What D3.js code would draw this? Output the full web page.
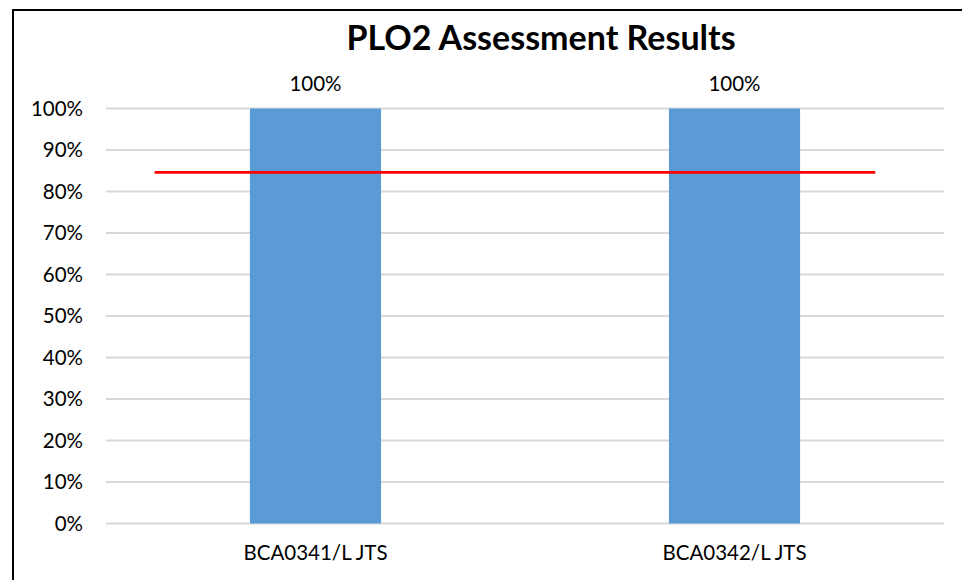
<!DOCTYPE html>
<html><head><meta charset="utf-8">
<script src="https://cdn.jsdelivr.net/npm/d3@7"></script>
<style>body{margin:0;background:#fff;}svg{display:block;font-family:Lato,"Open Sans",sans-serif;}</style>
</head><body>
<svg id="c" width="962" height="580"></svg>
<script>
const categories = ["BCA0341/L JTS", "BCA0342/L JTS"];
const values = [1.0, 1.0];
const valueLabels = ["100%", "100%"];
const yTicks = [0,0.1,0.2,0.3,0.4,0.5,0.6,0.7,0.8,0.9,1.0];
const targetValue = 0.846;
const targetSpan = [0.058, 0.918]; // fraction of plot width
const title = "PLO2 Assessment Results";

const svg = d3.select("#c");
const m = {left:106, right:944, top:108.5, bottom:523.5};

svg.append("rect").attr("x",13).attr("y",10).attr("width",1000).attr("height",620)
  .attr("fill","none").attr("stroke","#000").attr("stroke-width",2);

const x = d3.scaleBand().domain(categories).range([m.left,m.right]).padding(0);
const y = d3.scaleLinear().domain([0,1]).range([m.bottom,m.top]);
const xf = d3.scaleLinear().domain([0,1]).range([m.left,m.right]);

// gridlines
svg.append("g").selectAll("line").data(yTicks).join("line")
  .attr("x1",m.left).attr("x2",m.right)
  .attr("y1",d=>y(d)).attr("y2",d=>y(d))
  .attr("stroke","#D9D9D9").attr("stroke-width",2);

// y axis
const yAxis = d3.axisLeft(y).tickValues(yTicks).tickFormat(d3.format(".0%")).tickSize(0).tickPadding(23);
const ga = svg.append("g").attr("transform",`translate(${m.left},0)`).call(yAxis);
ga.select(".domain").remove();
ga.selectAll("text").attr("font-size",20.5).attr("fill","#000").attr("font-family","Lato");

// bars
const bw = x.bandwidth()*0.313;
svg.append("g").selectAll("rect").data(values).join("rect")
  .attr("x",(d,i)=>x(categories[i])+x.bandwidth()/2-bw/2)
  .attr("width",bw)
  .attr("y",d=>y(d)).attr("height",d=>y(0)-y(d))
  .attr("fill","#5B9BD5");

// value labels
svg.append("g").selectAll("text").data(values).join("text")
  .attr("x",(d,i)=>x(categories[i])+x.bandwidth()/2)
  .attr("y",d=>y(d)-18)
  .attr("text-anchor","middle").attr("font-size",20.5).attr("fill","#000")
  .text((d,i)=>valueLabels[i]);

// x axis labels
const xAxis = d3.axisBottom(x).tickSize(0).tickPadding(22);
const gx = svg.append("g").attr("transform",`translate(0,${m.bottom})`).call(xAxis);
gx.select(".domain").remove();
gx.selectAll("text").attr("font-size",20.5).attr("fill","#000").attr("font-family","Lato");

// target line
svg.append("line")
  .attr("x1",xf(targetSpan[0])).attr("x2",xf(targetSpan[1]))
  .attr("y1",y(targetValue)).attr("y2",y(targetValue))
  .attr("stroke","#FF0000").attr("stroke-width",2.7);

// title
svg.append("text").attr("x",541).attr("y",50).attr("text-anchor","middle")
  .attr("font-size",34).attr("font-weight","bold").attr("fill","#000").text(title);
</script>
</body></html>
